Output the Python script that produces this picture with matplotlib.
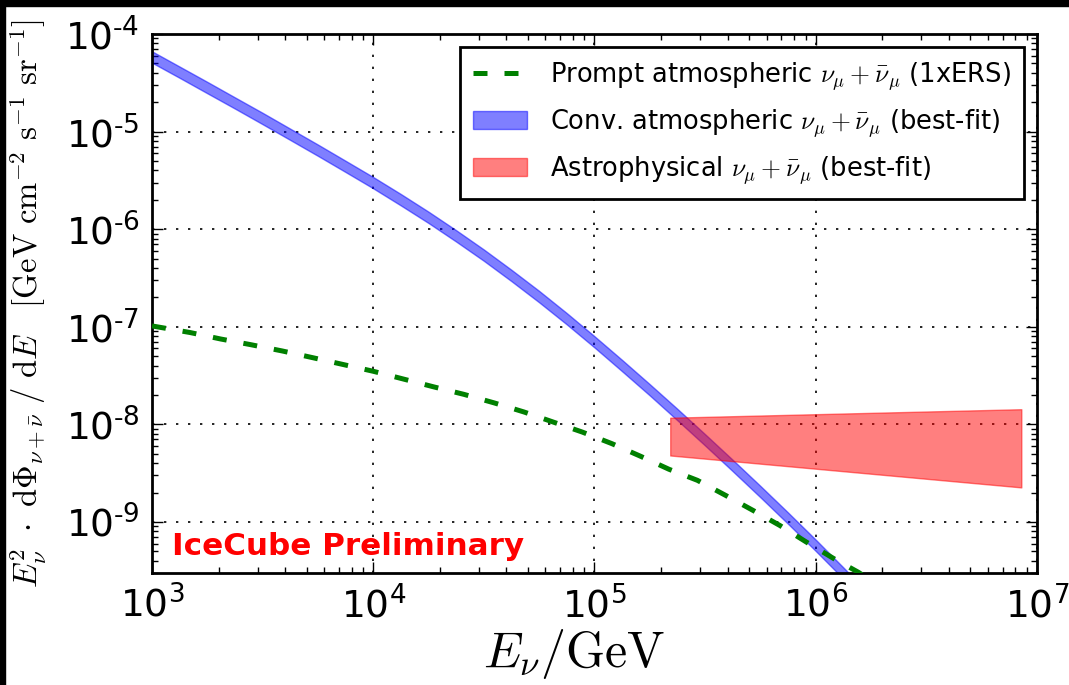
import numpy as np
import matplotlib
matplotlib.use("Agg")
import matplotlib.pyplot as plt
from matplotlib.patches import Rectangle
from matplotlib.ticker import FuncFormatter, NullFormatter

plt.rcParams['mathtext.fontset'] = 'cm'
plt.rcParams['font.family'] = 'DejaVu Sans'

# conventional atmospheric band (best-fit)
conv_E = [1000, 1334, 1778, 2371, 3162, 4217, 5623, 7499, 1e4, 13335, 17783,
          23714, 31623, 42170, 56234, 74989, 1e5, 133352, 177828, 237137,
          316228, 421697, 562341, 749894, 1e6, 1333521, 1778279]
conv_hi = [6.64e-5, 4.63e-5, 3.23e-5, 2.24e-5, 1.556e-5, 1.07e-5, 7.36e-6,
           5.02e-6, 3.42e-6, 2.29e-6, 1.51e-6, 9.75e-7, 6.19e-7, 3.83e-7,
           2.33e-7, 1.38e-7, 8.0e-8, 4.57e-8, 2.58e-8, 1.44e-8, 7.93e-9,
           4.33e-9, 2.34e-9, 1.25e-9, 6.59e-10, 3.42e-10, 1.75e-10]
conv_lo = [5.08e-5, 3.55e-5, 2.47e-5, 1.72e-5, 1.19e-5, 8.2e-6, 5.64e-6,
           3.85e-6, 2.62e-6, 1.75e-6, 1.156e-6, 7.46e-7, 4.74e-7, 2.93e-7,
           1.78e-7, 1.057e-7, 6.14e-8, 3.5e-8, 1.98e-8, 1.10e-8, 6.07e-9,
           3.31e-9, 1.79e-9, 9.57e-10, 5.05e-10, 2.62e-10, 1.34e-10]

# prompt atmospheric (1xERS)
prompt_E = [1e3, 1.486e3, 2.04e3, 2.79e3, 3.88e3, 5.31e3, 7.26e3, 1e4,
            1.38e4, 1.88e4, 2.57e4, 3.52e4, 4.8e4, 6.56e4, 8.81e4, 1.2e5,
            1.62e5, 2.17e5, 2.92e5, 3.92e5, 5.22e5, 6.89e5, 9.1e5, 1.21e6,
            1.56e6, 1.78e6]
prompt_F = [1.02e-7, 8.73e-8, 7.5e-8, 6.56e-8, 5.65e-8, 4.83e-8, 4.12e-8,
            3.50e-8, 2.90e-8, 2.42e-8, 2.03e-8, 1.66e-8, 1.34e-8, 1.05e-8,
            8.34e-9, 6.34e-9, 4.70e-9, 3.47e-9, 2.67e-9, 1.87e-9, 1.31e-9,
            9.2e-10, 6.2e-10, 4.2e-10, 3.05e-10, 2.5e-10]

# astrophysical band (best-fit)
astro_E = [2.2e5, 8.5e6]
astro_hi = [1.17e-8, 1.43e-8]
astro_lo = [4.8e-9, 2.26e-9]


def pow10(v, pos):
    e = int(round(np.log10(v)))
    if e < 0:
        return r'$\mathdefault{10^{\text{-}%d}}$' % (-e)
    return r'$\mathdefault{10^{%d}}$' % e


fig = plt.figure(figsize=(10.69, 6.85), dpi=100)
ax = fig.add_axes([0.1422, 0.1635, 0.8278, 0.7869])

ax.plot(prompt_E, prompt_F, color='green', lw=3.6, dashes=(2.8, 3.4),
        label=r'Prompt atmospheric $\nu_\mu+\bar{\nu}_\mu$ (1xERS)', zorder=3)
ax.fill_between(conv_E, conv_lo, conv_hi, facecolor='blue', edgecolor='blue',
                alpha=0.5, lw=1,
                label=r'Conv. atmospheric $\nu_\mu+\bar{\nu}_\mu$ (best-fit)', zorder=2)
ax.fill_between(astro_E, astro_lo, astro_hi, facecolor='red', edgecolor='red',
                alpha=0.5, lw=1,
                label=r'Astrophysical $\nu_\mu+\bar{\nu}_\mu$ (best-fit)', zorder=2)

ax.set_xscale('log')
ax.set_yscale('log')
ax.set_xlim(1e3, 1e7)
ax.set_ylim(3e-10, 1e-4)
for a in (ax.xaxis, ax.yaxis):
    a.set_major_formatter(FuncFormatter(pow10))
    a.set_minor_formatter(NullFormatter())

ax.grid(True, which='major', color='k', linestyle=(0, (1.4, 5.8)), lw=1.2)
ax.tick_params(which='both', direction='in', top=True, right=True,
               labelsize=27, pad=9)
ax.tick_params(which='major', length=8, width=1)
ax.tick_params(which='minor', length=4, width=1)
for s in ax.spines.values():
    s.set_linewidth(2)

ax.set_xlabel(r'$E_\nu/\mathrm{GeV}$', fontsize=36)
ax.xaxis.set_label_coords(0.477, -0.1)
ax.set_ylabel(r'$E_\nu^2\ \cdot\ \mathrm{d}\Phi_{\nu+\bar{\nu}}\ /\ \mathrm{d}E'
              r'\quad [\mathrm{GeV\ cm^{-2}\ s^{-1}\ sr^{-1}}]$',
              fontsize=23.5, labelpad=12)

ax.text(0.0226, 0.033, 'IceCube Preliminary', transform=ax.transAxes,
        color='red', fontsize=22.3, fontweight='bold', va='baseline')

leg = ax.legend(loc='upper right', fontsize=18.5, labelspacing=0.55,
                handlelength=2.1, handletextpad=0.9, borderpad=0.5,
                borderaxespad=0.5, fancybox=False, framealpha=1)
leg.get_frame().set_edgecolor('k')
leg.get_frame().set_linewidth(2)

# black strips along top and left edge of the original image
fig.patches.append(Rectangle((0, 1 - 6 / 685), 1, 6 / 685, transform=fig.transFigure,
                             color='k', zorder=10))
fig.patches.append(Rectangle((0, 0), 5 / 1069, 1, transform=fig.transFigure,
                             color='k', zorder=10))

fig.savefig('out.png', dpi=100)
